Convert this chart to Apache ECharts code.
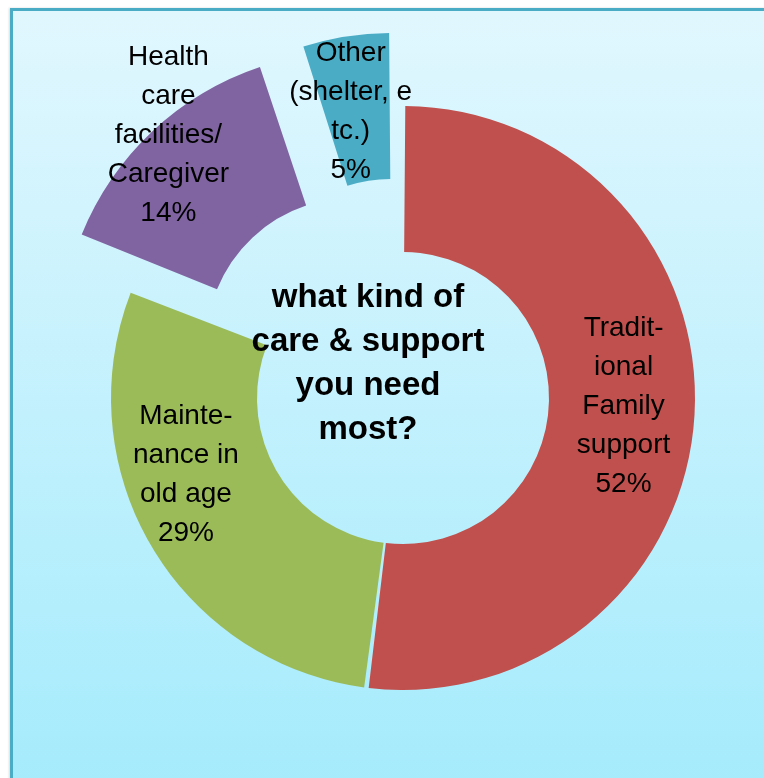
<!DOCTYPE html>
<html>
<head>
<meta charset="utf-8">
<script src="https://cdn.jsdelivr.net/npm/echarts@6/dist/echarts.min.js"></script>
<style>
  html, body { margin: 0; padding: 0; background: #ffffff; width: 764px; height: 778px; overflow: hidden; }
  #frame {
    position: absolute; left: 10px; top: 8px; width: 800px; height: 800px;
    border-left: 3px solid #4BACC6; border-top: 3px solid #4BACC6;
    background: linear-gradient(to bottom, #E1F7FE 0%, #A3EBFC 100%);
    box-shadow: -1px 0 2px rgba(0,0,0,0.15);
  }
  #chart { position: absolute; left: 0; top: 0; width: 764px; height: 778px; }
</style>
</head>
<body>
<div id="frame"></div>
<div id="chart"></div>
<script>
// Data
const categories = [
  'Tradit-\nional\nFamily\nsupport',
  'Mainte-\nnance in\nold age',
  'Health\ncare\nfacilities/\nCaregiver',
  'Other\n(shelter, e\ntc.)'
];
const values = [52, 29, 14, 5];
const exploded = [false, false, true, true];
const centerTitle = 'what kind of\ncare & support\nyou need\nmost?';

// Styles (not data)
const colors = ['#C0504D', '#9BBB59', '#8064A2', '#4BACC6'];
const labelShift = [[-1, -6], [-26, -36], [-32, -47], [-6, 6]];

const chart = echarts.init(document.getElementById('chart'), null, { renderer: 'canvas' });

const pieData = categories.map((c, i) => ({
  name: c,
  value: values[i],
  selected: exploded[i],
  itemStyle: { color: colors[i] }
}));

chart.setOption({
  backgroundColor: 'transparent',
  animation: false,
  graphic: [{
    type: 'text',
    x: 368,
    y: 364,
    style: {
      text: centerTitle,
      fill: '#000000',
      font: 'bold 33px "Liberation Sans", Arial, sans-serif',
      lineHeight: 44,
      align: 'center',
      verticalAlign: 'middle'
    },
    z: 10
  }],
  series: [{
    type: 'pie',
    center: [403, 398],
    radius: [146, 292],
    startAngle: 90,
    clockwise: true,
    padAngle: 0.9,
    selectedMode: 'multiple',
    selectedOffset: 74,
    avoidLabelOverlap: false,
    emphasis: { disabled: true },
    label: {
      show: true,
      position: 'inside',
      formatter: '{b}\n{c}%',
      color: '#000000',
      fontFamily: '"Liberation Sans", Arial, sans-serif',
      fontSize: 28,
      lineHeight: 39,
      align: 'center'
    },
    labelLine: { show: false },
    labelLayout: function (params) {
      const s = labelShift[params.dataIndex];
      return { dx: s[0], dy: s[1] };
    },
    data: pieData
  }]
});
</script>
</body>
</html>
